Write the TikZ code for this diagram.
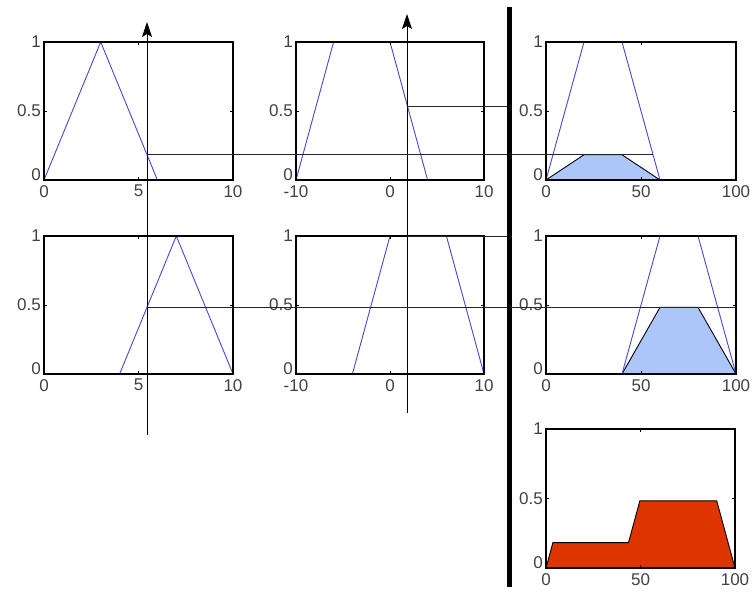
\documentclass[tikz,border=0pt]{standalone}
\usepackage{fontspec}
\setmainfont{Liberation Sans}
\usepackage{tikz}
\usetikzlibrary{arrows.meta}
\definecolor{mfblue}{RGB}{70,70,215}
\definecolor{cutfill}{RGB}{172,198,250}
\definecolor{aggred}{RGB}{222,52,0}
\definecolor{ticktext}{RGB}{65,65,65}

% frame, ticks and tick labels of one membership plot (data y from 0 to 1)
\newcommand{\mfaxes}[3]{%
  \draw[frame] (#1,0) rectangle (#3,1);
  \foreach \t in {#1,#2,#3}{
    \draw[tickmark] (\t,0) -- ++(0,3pt) (\t,1) -- ++(0,-3pt);
    \node[lbl,anchor=north,yshift=-4pt] at (\t,0) {\t};
  }
  \foreach \v/\dy in {0/5pt,0.5/0pt,1/0pt}{
    \draw[tickmark] (#1,\v) -- ++(3pt,0) (#3,\v) -- ++(-3pt,0);
    \node[lbl,anchor=east,xshift=-2pt,yshift=\dy] at (#1,\v) {\v};
  }
}

\begin{document}
\begin{tikzpicture}[x=1pt,y=-1pt,
  frame/.style={draw=black,line width=1.2pt},
  tickmark/.style={draw=black,line width=0.6pt},
  mf/.style={draw=mfblue,line width=0.9pt},
  cutline/.style={draw=black!85,line width=1pt},
  lbl/.style={font=\fontsize{17}{17}\selectfont,text=ticktext,inner sep=1pt}]
  \useasboundingbox (0,0) rectangle (753,597);

  % Rule 1, first input
  \begin{scope}[xshift=44pt,yshift=-180pt,x=18.9pt,y=138pt]
    \draw[mf] (0,0)--(3,1)--(6,0)--(10,0);
    \mfaxes{0}{5}{10}
  \end{scope}
  % Rule 1, second input
  \begin{scope}[xshift=390pt,yshift=-180pt,x=9.4pt,y=138pt]
    \draw[mf] (-10,0)--(-6,1)--(0,1)--(4,0)--(10,0);
    \mfaxes{-10}{0}{10}
  \end{scope}
  % Rule 1, output
  \begin{scope}[xshift=546pt,yshift=-180pt,x=1.9pt,y=138pt]
    \filldraw[fill=cutfill,draw=black,line width=0.9pt] (0,0)--(20,0.183)--(40,0.183)--(60,0)--cycle;
    \draw[mf] (0,0)--(20,1)--(40,1)--(60,0)--(100,0);
    \mfaxes{0}{50}{100}
  \end{scope}

  % Rule 2, first input
  \begin{scope}[xshift=44pt,yshift=-374pt,x=18.9pt,y=138pt]
    \draw[mf] (0,0)--(4,0)--(7,1)--(10,0);
    \mfaxes{0}{5}{10}
  \end{scope}
  % Rule 2, second input
  \begin{scope}[xshift=390pt,yshift=-374pt,x=9.4pt,y=138pt]
    \draw[mf] (-10,0)--(-4,0)--(0,1)--(6,1)--(10,0);
    \mfaxes{-10}{0}{10}
  \end{scope}
  % Rule 2, output
  \begin{scope}[xshift=546pt,yshift=-374pt,x=1.9pt,y=138pt]
    \filldraw[fill=cutfill,draw=black,line width=0.9pt] (40,0)--(60,0.483)--(80,0.483)--(100,0)--cycle;
    \draw[mf] (0,0)--(40,0)--(60,1)--(80,1)--(100,0);
    \mfaxes{0}{50}{100}
  \end{scope}

  % Aggregated output
  \begin{scope}[xshift=546pt,yshift=-568pt,x=1.89pt,y=139pt]
    \filldraw[fill=aggred,draw=black,line width=0.9pt] (0,0)--(3.66,0.183)--(43.66,0.183)--(49.66,0.483)--(90.34,0.483)--(100,0)--cycle;
    \mfaxes{0}{50}{100}
  \end{scope}

  % Crisp inputs
  \coordinate (in1 low) at (147,435);
  \coordinate (in1 high) at (147,22);
  \coordinate (in2 low) at (407,413);
  \coordinate (in2 high) at (407,14);
  \draw[line width=0.9pt,-{Stealth[length=15pt,width=10pt,inset=3pt]}] (in1 low) -- (in1 high);
  \draw[line width=0.9pt,-{Stealth[length=15pt,width=10pt,inset=3pt]}] (in2 low) -- (in2 high);

  % Degrees of membership carried across
  \coordinate (cut1a) at (147,154.7);
  \coordinate (cut1c) at (653,154.7);
  \coordinate (cut1b) at (407,106);
  \coordinate (cut1bar) at (507,106);
  \coordinate (cut2a) at (147,307);
  \coordinate (cut2c) at (736,307);
  \coordinate (cut2b) at (407,236);
  \coordinate (cut2bar) at (507,236);
  \draw[cutline] (cut1a) -- (cut1c);
  \draw[cutline] (cut1b) -- (cut1bar);
  \draw[cutline] (cut2a) -- (cut2c);
  \draw[cutline] (cut2b) -- (cut2bar);

  % Separator
  \coordinate (bar top) at (509,7);
  \coordinate (bar bottom) at (509,587);
  \draw[line width=5pt] (bar top) -- (bar bottom);
\end{tikzpicture}
\end{document}
